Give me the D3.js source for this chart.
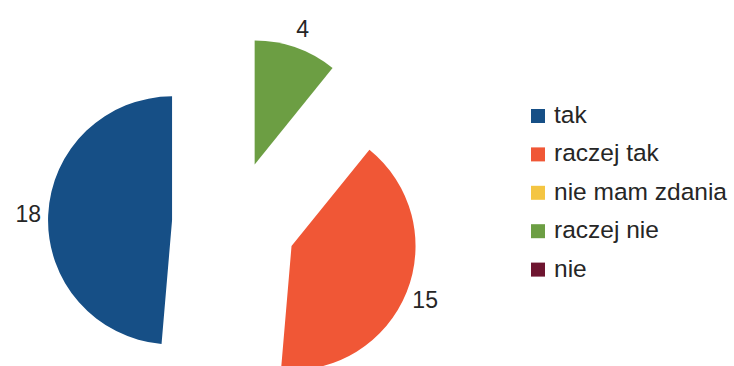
<!DOCTYPE html>
<html>
<head>
<meta charset="utf-8">
<script src="https://cdn.jsdelivr.net/npm/d3@7"></script>
<style>
  html, body { margin: 0; padding: 0; background: #ffffff; }
  svg { display: block; }
  text { font-family: "Liberation Sans", Arial, sans-serif; fill: #262626; }
</style>
</head>
<body>
<svg id="chart" width="734" height="366"></svg>
<script>
const categories = ["tak", "raczej tak", "nie mam zdania", "raczej nie", "nie"];
const values = [18, 15, 0, 4, 0];
const colors = ["#164f86", "#f05736", "#f4c542", "#6c9e43", "#6e1530"];

const svg = d3.select("#chart");
const cx = 234, cy = 223, radius = 124, explode = 62, labelR = 206;

const data = categories.map((c, i) => ({ name: c, value: values[i], color: colors[i] }));

const pie = d3.pie().sort(null).value(d => d.value)
  .startAngle(0).endAngle(-2 * Math.PI);
const arcs = pie(data);
const arc = d3.arc().innerRadius(0).outerRadius(radius);

const g = svg.append("g").attr("transform", `translate(${cx},${cy})`);

const slices = arcs.filter(a => a.data.value > 0);

g.selectAll("path.slice")
  .data(slices)
  .join("path")
  .attr("class", "slice")
  .attr("fill", d => d.data.color)
  .attr("d", arc)
  .attr("transform", d => {
    const mid = (d.startAngle + d.endAngle) / 2;
    return `translate(${Math.sin(mid) * explode},${-Math.cos(mid) * explode})`;
  });

g.selectAll("text.lbl")
  .data(slices)
  .join("text")
  .attr("class", "lbl")
  .attr("x", d => Math.sin((d.startAngle + d.endAngle) / 2) * labelR)
  .attr("y", d => -Math.cos((d.startAngle + d.endAngle) / 2) * labelR)
  .attr("text-anchor", "middle")
  .attr("dominant-baseline", "central")
  .attr("font-size", 23)
  .text(d => d.data.value);

// Legend
const legendY = d3.scaleBand().domain(categories).range([104, 296]);
const legend = svg.append("g");
const items = legend.selectAll("g.item")
  .data(data)
  .join("g")
  .attr("class", "item")
  .attr("transform", d => `translate(531,${legendY(d.name)})`);
items.append("rect")
  .attr("x", 0).attr("y", 5)
  .attr("width", 14).attr("height", 14)
  .attr("fill", d => d.color);
items.append("text")
  .attr("x", 23).attr("y", 19)
  .attr("font-size", 24.5)
  .text(d => d.name);
</script>
</body>
</html>
